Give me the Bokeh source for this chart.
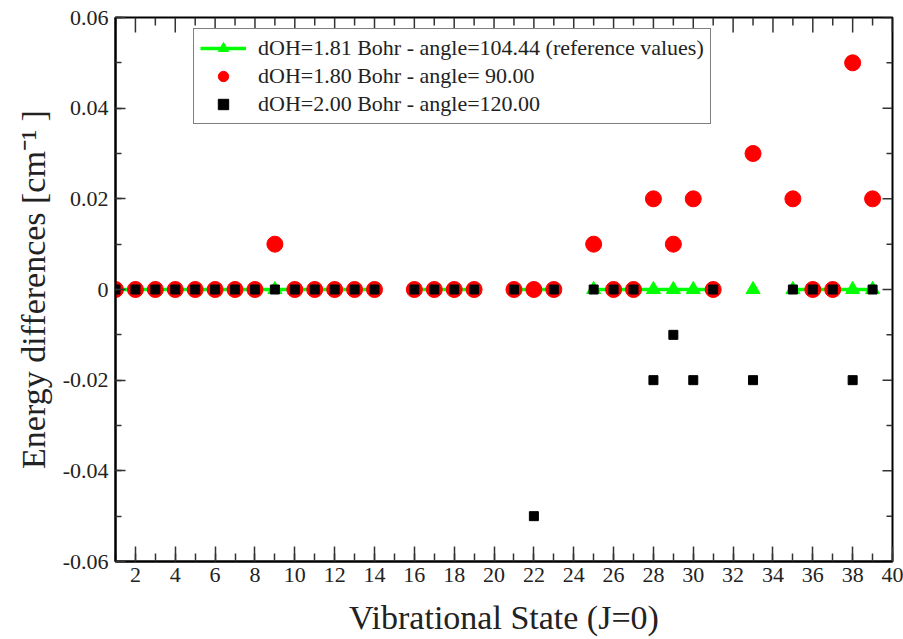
import math
from bokeh.plotting import figure
from bokeh.models import FixedTicker, Range1d, Legend, LegendItem
from bokeh.embed import file_html
from bokeh.resources import INLINE

# ---------------- data ----------------
states = [1, 2, 3, 4, 5, 6, 7, 8, 9, 10, 11, 12, 13, 14,
          16, 17, 18, 19,
          21, 22, 23,
          25, 26, 27, 28, 29, 30, 31,
          33,
          35, 36, 37, 38, 39]
ref_values = [0.0] * 14 + [0.0] * 4 + [0.0] * 3 + [0.0] * 7 + [0.0] + [0.0] * 5
red_values = [0, 0, 0, 0, 0, 0, 0, 0, 0.01, 0, 0, 0, 0, 0,
              0, 0, 0, 0,
              0, 0, 0,
              0.01, 0, 0, 0.02, 0.01, 0.02, 0,
              0.03,
              0.02, 0, 0, 0.05, 0.02]
black_values = [0, 0, 0, 0, 0, 0, 0, 0, 0, 0, 0, 0, 0, 0,
                0, 0, 0, 0,
                0, -0.05, 0,
                0, 0, 0, -0.02, -0.01, -0.02, 0,
                -0.02,
                0, 0, 0, -0.02, 0]

label_ref = "dOH=1.81 Bohr - angle=104.44 (reference values)"
label_red = "dOH=1.80 Bohr - angle= 90.00"
label_black = "dOH=2.00 Bohr - angle=120.00"

x_ticks = [2, 4, 6, 8, 10, 12, 14, 16, 18, 20, 22, 24, 26, 28, 30, 32, 34, 36, 38, 40]
x_minor = list(range(1, 41))
y_ticks = [-0.06, -0.04, -0.02, 0.0, 0.02, 0.04, 0.06]
y_tick_labels = ["-0.06", "-0.04", "-0.02", "0", "0.02", "0.04", "0.06"]
y_minor = [-0.06, -0.05, -0.04, -0.03, -0.02, -0.01, 0.0, 0.01, 0.02, 0.03, 0.04, 0.05, 0.06]

X0, X1 = 1, 40
Y0, Y1 = -0.06, 0.06

# line with breaks where states are not consecutive
line_x, line_y = [], []
for i, (s, v) in enumerate(zip(states, ref_values)):
    if i > 0 and s - states[i - 1] > 1:
        line_x.append(float("nan"))
        line_y.append(float("nan"))
    line_x.append(s)
    line_y.append(v)

FONT = "'Liberation Serif', serif"

W, H = 903, 639
BL, BR, BT, BB = 115, 11, 17, 78
p = figure(width=W, height=H, output_backend="svg", toolbar_location=None,
           x_range=Range1d(X0, X1), y_range=Range1d(Y0, Y1),
           min_border_left=BL, min_border_right=BR, min_border_top=BT, min_border_bottom=BB)
p.grid.visible = False
p.outline_line_color = "black"
p.outline_line_width = 2
p.outline_line_alpha = 1.0
p.background_fill_color = "white"
p.border_fill_color = "white"

xt = FixedTicker(ticks=x_ticks, minor_ticks=x_minor)
yt = FixedTicker(ticks=y_ticks, minor_ticks=y_minor)
overrides = {t: l for t, l in zip(y_ticks, y_tick_labels)}

X_MAJ, X_MIN, Y_MAJ, Y_MIN = 15, 8, 10, 6

def style(ax, ticker, maj_in, min_in):
    ax.ticker = ticker
    ax.axis_line_width = 2
    ax.axis_line_color = "black"
    ax.major_tick_in = maj_in
    ax.major_tick_out = 0
    ax.minor_tick_in = min_in
    ax.minor_tick_out = 0
    ax.major_tick_line_color = "#333333"
    ax.minor_tick_line_color = "#333333"
    ax.major_tick_line_width = 1.5
    ax.minor_tick_line_width = 1.5
    ax.major_label_text_font = FONT
    ax.major_label_text_font_size = "22px"
    ax.major_label_text_color = "#222222"

xa = p.xaxis[0]
ya = p.yaxis[0]
style(xa, xt, X_MAJ, X_MIN)
style(ya, yt, Y_MAJ, Y_MIN)
ya.major_label_overrides = overrides
xa.major_label_standoff = 6
ya.major_label_standoff = 7
xa.axis_label = "Vibrational State (J=0)"
ya.axis_label = "Energy differences [cm\u207b\u00b9 ]"
for ax in (xa, ya):
    ax.axis_label_text_font = FONT
    ax.axis_label_text_font_size = "34px"
    ax.axis_label_text_font_style = "normal"
    ax.axis_label_text_color = "#222222"
xa.axis_label_standoff = 14
ya.axis_label_standoff = 8

# mirror ticks on top and right edges (derived from the tick lists)
plot_h = H - BT - BB
plot_w = W - BL - BR
dy_per_px = (Y1 - Y0) / plot_h
dx_per_px = (X1 - X0) / plot_w
top_x, top_y0, top_y1 = [], [], []
for t in x_minor:
    ln = X_MAJ if t in x_ticks else X_MIN
    top_x.append(t)
    top_y0.append(Y1)
    top_y1.append(Y1 - ln * dy_per_px)
p.segment(top_x, top_y0, top_x, top_y1, line_color="#333333", line_width=1.5)
rx0, rx1, ry = [], [], []
for t in y_minor:
    ln = Y_MAJ if any(abs(t - m) < 1e-9 for m in y_ticks) else Y_MIN
    ry.append(t)
    rx0.append(X1)
    rx1.append(X1 - ln * dx_per_px)
p.segment(rx0, ry, rx1, ry, line_color="#333333", line_width=1.5)

r_line = p.line(line_x, line_y, line_color="#00ff00", line_width=3.5)
r_tri = p.scatter(states, ref_values, marker="triangle", size=14,
                  fill_color="#00ff00", line_color="#00ff00")
r_red = p.scatter(states, red_values, marker="circle", size=16,
                  fill_color="#ff0000", line_color="#ff0000")
r_blk = p.scatter(states, black_values, marker="square", size=9,
                  fill_color="black", line_color="black")

legend = Legend(items=[
    LegendItem(label=label_ref, renderers=[r_line, r_tri]),
    LegendItem(label=label_red, renderers=[r_red]),
    LegendItem(label=label_black, renderers=[r_blk]),
], location=(78, 437))
legend.label_text_font = FONT
legend.label_text_font_size = "22px"
legend.label_text_color = "#222222"
legend.glyph_width = 46
legend.glyph_height = 26
legend.label_height = 26
legend.label_standoff = 12
legend.spacing = 2
legend.padding = 6
legend.border_line_color = "black"
legend.border_line_width = 1.5
legend.background_fill_alpha = 1.0
p.add_layout(legend, "center")

open("out.html", "w").write(file_html(p, INLINE))
